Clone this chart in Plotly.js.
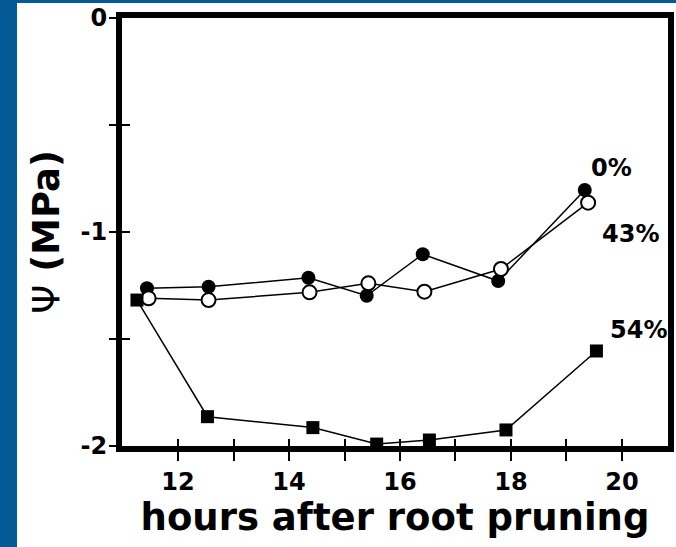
<!DOCTYPE html>
<html>
<head>
<meta charset="utf-8">
<script src="https://cdn.plot.ly/plotly-3.0.1.min.js"></script>
<style>
  html, body { margin: 0; padding: 0; background: #045A96; width: 676px; height: 547px; overflow: hidden; }
  #chart { position: absolute; left: 17px; top: 3px; width: 659px; height: 544px; background: #ffffff; }
</style>
</head>
<body>
<div id="chart"></div>
<script>
// hours after root pruning and water potential (MPa)
const hours0  = [11.44, 12.55, 14.35, 15.40, 16.41, 17.77, 19.33];
const psi0    = [-1.263, -1.256, -1.214, -1.298, -1.104, -1.229, -0.804];
const hours43 = [11.47, 12.55, 14.37, 15.43, 16.44, 17.82, 19.39];
const psi43   = [-1.310, -1.318, -1.282, -1.240, -1.279, -1.173, -0.863];
const hours54 = [11.26, 12.53, 14.43, 15.58, 16.53, 17.91, 19.54];
const psi54   = [-1.318, -1.863, -1.914, -1.991, -1.972, -1.925, -1.556];

const xTickVals = [12, 13, 14, 15, 16, 17, 18, 19, 20];
const xTickText = ['12', '', '14', '', '16', '', '18', '', '20'];
const yTickVals = [0, -0.5, -1, -1.5, -2];
const yTickText = ['0', '', '-1', '', '-2'];

const seriesLabels = ['0%', '43%', '54%'];
const labelX = [19.82, 20.16, 20.29];
const labelY = [-0.70, -1.01, -1.458];

const FONT = 'DejaVu Sans, Arial, sans-serif';
const xRange = [10.99, 20.83];
const yRange = [-2, 0];

const traces = [
  { x: hours54, y: psi54, mode: 'lines+markers', xaxis: 'x2', yaxis: 'y2',
    line: { color: '#000', width: 1.5 },
    marker: { symbol: 'square', size: 13, color: '#000' } },
  { x: hours0, y: psi0, mode: 'lines+markers',
    line: { color: '#000', width: 1.5 },
    marker: { symbol: 'circle', size: 14, color: '#000' } },
  { x: hours43, y: psi43, mode: 'lines+markers',
    line: { color: '#000', width: 1.5 },
    marker: { symbol: 'circle', size: 14, color: '#fff', line: { color: '#000', width: 2 } } }
];

const baseAxis = {
  showgrid: false, zeroline: false, showline: true, linecolor: '#000', linewidth: 6,
  mirror: true, tickcolor: '#000', tickwidth: 2
};

const layout = {
  width: 659, height: 544,
  margin: { l: 105, r: 8, t: 15, b: 101 },
  paper_bgcolor: '#ffffff', plot_bgcolor: '#ffffff',
  showlegend: false,
  font: { family: FONT, color: '#000' },
  xaxis: Object.assign({}, baseAxis, {
    range: xRange, tickmode: 'array', tickvals: xTickVals, ticktext: xTickText,
    ticks: 'outside', ticklen: 9,
    tickfont: { family: FONT, size: 24, weight: 'bold', color: '#000' },
    title: { text: 'hours after root pruning', font: { family: FONT, size: 37, weight: 'bold', color: '#000' }, standoff: 4 }
  }),
  yaxis: Object.assign({}, baseAxis, {
    range: yRange, tickmode: 'array', tickvals: yTickVals, ticktext: yTickText,
    ticks: 'outside', ticklen: 7, ticklabelstandoff: -3,
    tickfont: { family: FONT, size: 24, weight: 'bold', color: '#000' },
    title: { text: '<span style="font-weight:normal">Ψ</span> (MPa)', font: { family: FONT, size: 37, weight: 'bold', color: '#000' }, standoff: 12 }
  }),
  xaxis2: Object.assign({}, baseAxis, {
    overlaying: 'x', anchor: 'y2', side: 'bottom', range: xRange,
    tickmode: 'array', tickvals: xTickVals, ticks: 'inside', ticklen: 7, showticklabels: false
  }),
  yaxis2: Object.assign({}, baseAxis, {
    overlaying: 'y', anchor: 'x2', side: 'left', range: yRange,
    tickmode: 'array', tickvals: yTickVals, ticks: 'inside', ticklen: 8, showticklabels: false
  }),
  annotations: seriesLabels.map((t, i) => ({
    x: labelX[i], y: labelY[i], xref: 'x', yref: 'y', text: t, showarrow: false,
    font: { family: FONT, size: 24, weight: 'bold', color: '#000' }
  }))
};

Plotly.newPlot('chart', traces, layout, { displayModeBar: false, staticPlot: true });
</script>
</body>
</html>
